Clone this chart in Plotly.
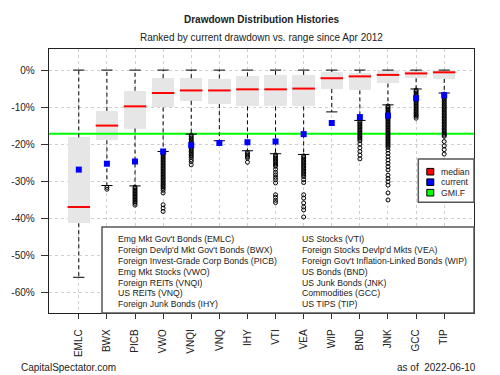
import plotly.graph_objects as go

# ---------------- data ----------------
cats = ["EMLC", "BWX", "PICB", "VWO", "VNQI", "VNQ", "IHY", "VTI", "VEA",
        "WIP", "BND", "JNK", "GCC", "TIP"]
full_names_left = ["Emg Mkt Gov't Bonds (EMLC)", "Foreign Devlp'd Mkt Gov't Bonds (BWX)",
                   "Foreign Invest-Grade Corp Bonds (PICB)", "Emg Mkt Stocks (VWO)",
                   "Foreign REITs (VNQI)", "US REITs (VNQ)", "Foreign Junk Bonds (IHY)"]
full_names_right = ["US Stocks (VTI)", "Foreign Stocks Devlp'd Mkts (VEA)",
                    "Foreign Gov't Inflation-Linked Bonds (WIP)", "US Bonds (BND)",
                    "US Junk Bonds (JNK)", "Commodities (GCC)", "US TIPS (TIP)"]

# drawdown statistics, in percent
upper_whisker = [0, 0, 0, 0, 0, 0, 0, 0, 0, 0, 0, 0, 0, 0]
q3 = [-18.2, -11.0, -5.6, -2.2, -2.2, -2.3, -1.7, -1.3, -1.3, -0.5, -0.8, -0.1, -0.3, -0.1]
median = [-37.0, -15.0, -9.8, -6.2, -5.5, -5.5, -5.2, -5.2, -5.0, -2.2, -1.7, -1.3, -0.9, -0.6]
q1 = [-41.4, -19.0, -15.8, -10.1, -8.3, -9.2, -9.8, -9.8, -9.8, -5.1, -5.5, -3.6, -2.2, -2.4]
lower_whisker = [-56.0, -31.2, -31.3, -22.0, -17.3, -19.1, -21.8, -22.6, -22.8, -11.3, -13.6, -9.4, -5.1, -6.2]
current = [-26.9, -25.3, -24.7, -22.0, -20.3, -19.7, -19.5, -19.3, -17.3, -14.3, -12.7, -12.3, -7.6, -6.8]
gmi_f = -17.2

outliers = {
    "EMLC": [],
    "BWX": [-31.7, -32.2],
    "PICB": [-31.6, -32.0, -32.4, -32.8, -33.2, -33.6, -34.0, -34.4, -34.8, -35.2,
             -35.6, -36.0, -36.5],
    "VWO": [-22.4, -22.8, -23.2, -23.6, -24.0, -24.4, -24.8, -25.2, -25.6, -26.0,
            -26.4, -26.8, -27.2, -27.6, -28.0, -28.4, -28.8, -29.2, -29.6, -30.0,
            -30.4, -30.8, -31.2, -31.6, -32.0, -32.5, -33.2, -36.4, -37.3, -38.2],
    "VNQI": [-17.6, -18.0, -18.4, -18.8, -19.2, -19.6, -20.0, -20.4, -20.8, -21.2,
             -21.6, -22.0, -22.4, -22.8, -23.2, -23.6, -24.2, -24.7, -25.6],
    "VNQ": [],
    "IHY": [-22.2, -22.6, -23.0, -23.4, -23.8, -24.9],
    "VTI": [-22.9, -23.3, -23.7, -24.1, -24.5, -24.9, -25.3, -25.7, -26.0, -26.8,
            -27.6, -28.3, -29.0, -29.6, -30.5, -33.7, -34.4, -35.2, -35.8],
    "VEA": [-23.2, -23.6, -24.0, -24.4, -24.8, -25.2, -25.6, -26.0, -26.4, -26.8,
            -27.2, -27.6, -28.0, -28.4, -28.8, -29.6, -30.4, -33.7, -34.6, -35.9,
            -37.0, -37.8, -39.7],
    "WIP": [],
    "BND": [-13.9, -14.3, -14.7, -15.1, -15.5, -15.9, -16.3, -16.7, -17.1, -17.5,
            -17.9, -18.3, -18.7, -19.1, -20.0, -21.0, -22.0, -23.0, -24.0],
    "JNK": [-9.7, -10.1, -10.5, -10.9, -11.3, -11.7, -12.1, -12.5, -12.9, -13.3,
            -13.7, -14.1, -14.5, -14.9, -15.3, -15.7, -16.1, -16.5, -16.9, -17.3,
            -17.7, -18.1, -18.5, -18.9, -19.3, -19.7, -20.1, -20.5, -20.9, -21.6,
            -22.5, -23.4, -24.3, -25.2, -26.1, -27.0, -28.4, -29.3, -30.2, -31.1,
            -33.2, -35.1],
    "GCC": [-5.4, -5.8, -6.2, -6.6, -7.0, -7.4, -7.8, -8.2, -8.6, -9.0, -9.4, -9.8,
            -10.2, -10.6, -11.0, -11.4, -11.8, -12.2, -12.5, -13.0],
    "TIP": [-6.5, -6.9, -7.3, -7.7, -8.1, -8.5, -8.9, -9.3, -9.7, -10.1, -10.5,
            -10.9, -11.3, -11.7, -12.1, -12.5, -12.9, -13.3, -13.7, -14.1, -14.5,
            -14.9, -15.3, -15.7, -16.1, -16.5, -16.9, -17.3, -17.6, -17.9, -19.3,
            -20.5, -21.5, -22.7],
}

y_tick_vals = [0, -10, -20, -30, -40, -50, -60]
y_tick_text = ["0%", "-10%", "-20%", "-30%", "-40%", "-50%", "-60%"]

# ---------------- layout constants ----------------
W, H = 500, 375
ML, MR, MT, MB = 49, 26, 49, 62
PW, PH = W - ML - MR, H - MT - MB
XR = [-0.06, 15.06]
YR = [-65.65, 5.7]
FONT = "Liberation Sans, Arial, Helvetica, sans-serif"
BOX_W = 0.8
CAP_HW = 0.2


def px_x(px):
    return (px - ML) / PW


def px_y(py):
    return (MT + PH - py) / PH


pos = list(range(1, len(cats) + 1))

fig = go.Figure()

# boxes
fig.add_trace(go.Bar(x=pos, base=q1, y=[a - b for a, b in zip(q3, q1)], width=BOX_W,
                     marker=dict(color="#E6E6E6", line=dict(width=0)),
                     hoverinfo="skip", showlegend=False))

# GMI.F line
fig.add_trace(go.Scatter(x=XR, y=[gmi_f, gmi_f], mode="lines",
                         line=dict(color="#00FF00", width=2), showlegend=False,
                         hoverinfo="skip"))

# whiskers (dashed)
wx, wy = [], []
for i, p in enumerate(pos):
    wx += [p, p, None, p, p, None]
    wy += [q3[i], upper_whisker[i], None, q1[i], lower_whisker[i], None]
fig.add_trace(go.Scatter(x=wx, y=wy, mode="lines",
                         line=dict(color="black", width=1, dash="4px,3px"),
                         showlegend=False, hoverinfo="skip"))

# caps
cx, cy = [], []
for i, p in enumerate(pos):
    cx += [p - CAP_HW, p + CAP_HW, None, p - CAP_HW, p + CAP_HW, None]
    cy += [upper_whisker[i], upper_whisker[i], None, lower_whisker[i], lower_whisker[i], None]
fig.add_trace(go.Scatter(x=cx, y=cy, mode="lines", line=dict(color="black", width=1),
                         showlegend=False, hoverinfo="skip"))

# medians
mx, my = [], []
for i, p in enumerate(pos):
    mx += [p - BOX_W / 2, p + BOX_W / 2, None]
    my += [median[i], median[i], None]
fig.add_trace(go.Scatter(x=mx, y=my, mode="lines", line=dict(color="#FF0000", width=2),
                         showlegend=False, hoverinfo="skip"))

# outliers
ox, oy = [], []
for i, c in enumerate(cats):
    for v in outliers[c]:
        ox.append(pos[i])
        oy.append(v)
fig.add_trace(go.Scatter(x=ox, y=oy, mode="markers",
                         marker=dict(symbol="circle-open", size=4, color="black",
                                     line=dict(width=1)),
                         showlegend=False, hoverinfo="skip"))

# current
fig.add_trace(go.Scatter(x=pos, y=current, mode="markers",
                         marker=dict(symbol="square", size=6, color="#0000FF",
                                     line=dict(width=0)),
                         showlegend=False, hoverinfo="skip"))

shapes = []
annotations = []

# big names box
shapes.append(dict(type="rect", xref="paper", yref="paper",
                   x0=px_x(102), x1=1.0, y0=0.0, y1=px_y(227),
                   fillcolor="white", line=dict(color="#555555", width=1.5), layer="above"))
row_y = [239.3, 250.2, 261.0, 271.8, 282.6, 293.4, 304.2]
for k, t in enumerate(full_names_left):
    annotations.append(dict(text=t, xref="paper", yref="paper", x=px_x(115.5), y=px_y(row_y[k]),
                            xanchor="left", yanchor="middle", showarrow=False,
                            font=dict(size=8.7, color="#222", family=FONT)))
for k, t in enumerate(full_names_right):
    annotations.append(dict(text=t, xref="paper", yref="paper", x=px_x(300), y=px_y(row_y[k]),
                            xanchor="left", yanchor="middle", showarrow=False,
                            font=dict(size=8.7, color="#222", family=FONT)))

# small legend
shapes.append(dict(type="rect", xref="paper", yref="paper",
                   x0=px_x(418.3), x1=1.0, y0=px_y(202.3), y1=px_y(159),
                   fillcolor="white", line=dict(color="#555555", width=1.5), layer="above"))
leg_items = [("median", "#FF0000", 171.7), ("current", "#0000FF", 182.2), ("GMI.F", "#00FF00", 192.7)]
for name, col, py in leg_items:
    shapes.append(dict(type="rect", xref="paper", yref="paper",
                       x0=px_x(426.8), x1=px_x(433.8), y0=px_y(py + 3.3), y1=px_y(py - 3.3),
                       fillcolor=col, line=dict(color="black", width=1), layer="above"))
    annotations.append(dict(text=name, xref="paper", yref="paper", x=px_x(439), y=px_y(py),
                            xanchor="left", yanchor="middle", showarrow=False,
                            font=dict(size=8.7, color="#222", family=FONT)))

# titles
annotations.append(dict(text="<b>Drawdown Distribution Histories</b>", xref="paper", yref="paper",
                        x=0.5, y=px_y(20), xanchor="center", yanchor="middle", showarrow=False,
                        font=dict(size=10, color="#222", family=FONT)))
annotations.append(dict(text="Ranked by current drawdown vs. range since Apr 2012", xref="paper",
                        yref="paper", x=0.5, y=px_y(37.3), xanchor="center", yanchor="middle",
                        showarrow=False, font=dict(size=10, color="#222", family=FONT)))
annotations.append(dict(text="CapitalSpectator.com", xref="paper", yref="paper",
                        x=px_x(18.5), y=px_y(367.3), xanchor="left", yanchor="middle",
                        showarrow=False, font=dict(size=10, color="#222", family=FONT)))
annotations.append(dict(text="as of\u00a0 2022-06-10", xref="paper", yref="paper",
                        x=px_x(478.5), y=px_y(367.3), xanchor="right", yanchor="middle",
                        showarrow=False, font=dict(size=10, color="#222", family=FONT)))

fig.update_layout(
    width=W, height=H,
    margin=dict(l=ML, r=MR, t=MT, b=MB, pad=0, autoexpand=False),
    paper_bgcolor="white", plot_bgcolor="white",
    font=dict(family=FONT, size=10, color="#222"),
    showlegend=False,
    shapes=shapes, annotations=annotations,
    bargap=0,
)
fig.update_xaxes(range=XR, tickvals=pos, ticktext=cats, tickangle=-90,
                 ticks="outside", ticklen=5, tickcolor="#333", tickwidth=1,
                 ticklabelstandoff=6, automargin=False,
                 showgrid=True, gridcolor="#D0D0D0", griddash="dot", gridwidth=1,
                 showline=True, linecolor="#222", linewidth=1.3, mirror=True,
                 zeroline=False, tickfont=dict(size=10, color="#222", family=FONT))
fig.update_yaxes(range=YR, tickvals=y_tick_vals, ticktext=y_tick_text,
                 ticks="outside", ticklen=7, tickcolor="#333", tickwidth=1,
                 ticklabelstandoff=4, automargin=False,
                 showgrid=True, gridcolor="#D0D0D0", griddash="dot", gridwidth=1,
                 showline=True, linecolor="#222", linewidth=1.3, mirror=True,
                 zeroline=False, tickfont=dict(size=10, color="#222", family=FONT))

fig.write_html("out.html",
               config={"displayModeBar": False, "staticPlot": True},
               post_script="document.body.style.margin='0';document.body.style.overflow='hidden';")
